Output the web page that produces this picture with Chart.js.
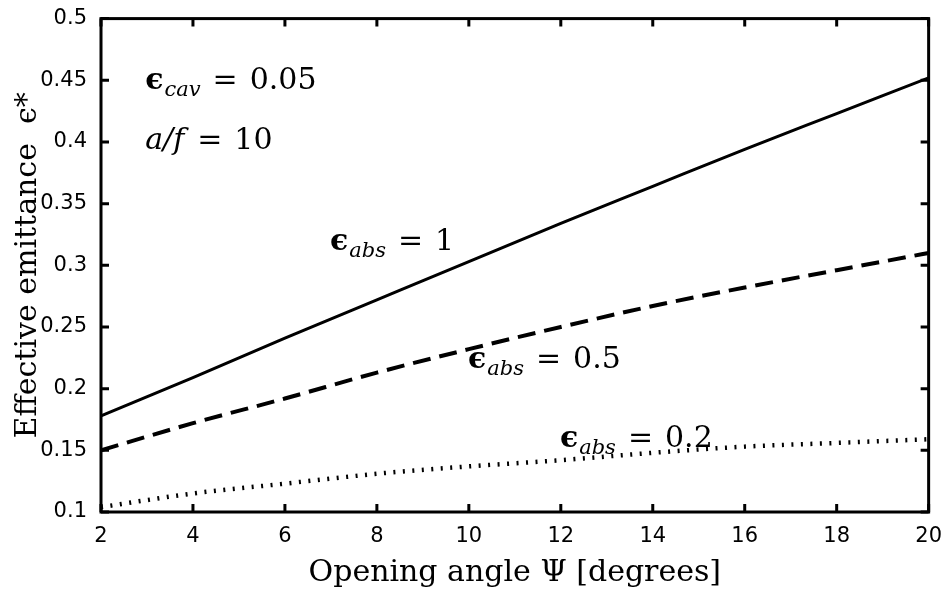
<!DOCTYPE html>
<html>
<head>
<meta charset="utf-8">
<script src="https://cdn.jsdelivr.net/npm/chart.js@4.4.1/dist/chart.umd.min.js"></script>
<style>
  html, body { margin: 0; padding: 0; background: #fff; }
  #wrap { width: 946px; height: 594px; }
</style>
</head>
<body>
<div id="wrap"><canvas id="emitChart"></canvas></div>
<script>
/* opening angle (degrees) and effective emittance for three absorber emittances */
var angles   = [2, 4, 6, 8, 10, 12, 14, 16, 18, 20];
var absOne   = [0.178, 0.209, 0.241, 0.272, 0.303, 0.334, 0.364, 0.394, 0.423, 0.452];
var absHalf  = [0.150, 0.172, 0.192, 0.213, 0.232, 0.250, 0.267, 0.282, 0.296, 0.310];
var absFifth = [0.104, 0.115, 0.123, 0.131, 0.137, 0.142, 0.148, 0.153, 0.156, 0.159];

var xTicks = [2, 4, 6, 8, 10, 12, 14, 16, 18, 20];
var yTicks = [0.1, 0.15, 0.2, 0.25, 0.3, 0.35, 0.4, 0.45, 0.5];
var yTickLabels = ['0.1', '0.15', '0.2', '0.25', '0.3', '0.35', '0.4', '0.45', '0.5'];

function pts(ys) {
  return angles.map(function (a, i) { return { x: a, y: ys[i] }; });
}

var serif = '"DejaVu Serif", serif';
var sans = '"DejaVu Sans", sans-serif';

/* text labels placed in data coordinates */
var notes = [
  { x: 2.96, y: 0.443, sym: '\u03F5', sub: 'cav', rest: '0.05' },
  { x: 2.96, y: 0.394, sym: 'a/f', sub: '', rest: '10' },
  { x: 6.98, y: 0.312, sym: '\u03F5', sub: 'abs', rest: '1' },
  { x: 9.98, y: 0.2165, sym: '\u03F5', sub: 'abs', rest: '0.5' },
  { x: 11.98, y: 0.1525, sym: '\u03F5', sub: 'abs', rest: '0.2' }
];

var framePlugin = {
  id: 'frameTicks',
  afterDatasetsDraw: function (chart) {
    var ctx = chart.ctx, a = chart.chartArea;
    var xs = chart.scales.x, ys = chart.scales.y;
    var len = 8;
    ctx.save();
    ctx.strokeStyle = '#000';
    ctx.lineWidth = 3;
    ctx.strokeRect(a.left, a.top, a.right - a.left, a.bottom - a.top);
    ctx.beginPath();
    xTicks.forEach(function (v) {
      var px = xs.getPixelForValue(v);
      ctx.moveTo(px, a.bottom); ctx.lineTo(px, a.bottom - len);
      ctx.moveTo(px, a.top); ctx.lineTo(px, a.top + len);
    });
    yTicks.forEach(function (v) {
      var py = ys.getPixelForValue(v);
      ctx.moveTo(a.left, py); ctx.lineTo(a.left + len, py);
      ctx.moveTo(a.right, py); ctx.lineTo(a.right - len, py);
    });
    ctx.stroke();

    // annotations: symbol, optional subscript, "=", value
    ctx.fillStyle = '#000';
    ctx.textBaseline = 'alphabetic';
    notes.forEach(function (n) {
      var x = xs.getPixelForValue(n.x), y = ys.getPixelForValue(n.y);
      ctx.font = (n.sub ? 'bold ' : 'italic ') + '30px ' + serif;
      ctx.fillText(n.sym, x, y);
      x += ctx.measureText(n.sym).width + 1;
      if (n.sub) {
        ctx.font = 'italic 21px ' + serif;
        ctx.fillText(n.sub, x, y + 7);
        x += ctx.measureText(n.sub).width;
      }
      ctx.font = '30px ' + serif;
      x += 12;
      ctx.fillText('=', x, y);
      x += ctx.measureText('=').width + 12;
      ctx.fillText(n.rest, x, y);
    });
    ctx.restore();
  }
};

var emitChart = new Chart(document.getElementById('emitChart'), {
  type: 'line',
  data: {
    datasets: [{
      label: 'eps_abs = 1',
      data: pts(absOne),
      borderColor: '#000',
      borderWidth: 3,
      pointRadius: 0,
      cubicInterpolationMode: 'monotone'
    }, {
      label: 'eps_abs = 0.5',
      data: pts(absHalf),
      borderColor: '#000',
      borderWidth: 4,
      borderDash: [18, 9],
      pointRadius: 0,
      cubicInterpolationMode: 'monotone'
    }, {
      label: 'eps_abs = 0.2',
      data: pts(absFifth),
      borderColor: '#000',
      borderWidth: 4.5,
      borderDash: [2, 7.5],
      pointRadius: 0,
      cubicInterpolationMode: 'monotone'
    }]
  },
  options: {
    responsive: true,
    maintainAspectRatio: false,
    animation: false,
    layout: { padding: { top: 17, right: 17, left: 0, bottom: 0 } },
    scales: {
      x: {
        type: 'linear',
        min: 2,
        max: 20,
        afterBuildTicks: function (s) { s.ticks = xTicks.map(function (v) { return { value: v }; }); },
        afterFit: function (s) { s.height = 82; },
        grid: { display: false },
        border: { display: false },
        ticks: {
          color: '#000',
          padding: 4,
          font: { family: sans, size: 21 }
        },
        title: {
          display: true,
          text: 'Opening angle \u03A8 [degrees]',
          color: '#000',
          padding: { top: 0, bottom: 3 },
          font: { family: serif, size: 30 }
        }
      },
      y: {
        min: 0.1,
        max: 0.5,
        afterBuildTicks: function (s) { s.ticks = yTicks.map(function (v) { return { value: v }; }); },
        afterFit: function (s) { s.width = 101; },
        grid: { display: false },
        border: { display: false },
        ticks: {
          color: '#000',
          padding: 6,
          font: { family: sans, size: 21 },
          callback: function (v) { return yTickLabels[yTicks.indexOf(v)]; }
        },
        title: {
          display: true,
          text: 'Effective emittance  \u03F5*',
          color: '#000',
          padding: { top: 10, bottom: 0 },
          font: { family: serif, size: 30 }
        }
      }
    },
    plugins: {
      legend: { display: false },
      tooltip: { enabled: false }
    }
  },
  plugins: [framePlugin]
});
</script>
</body>
</html>
